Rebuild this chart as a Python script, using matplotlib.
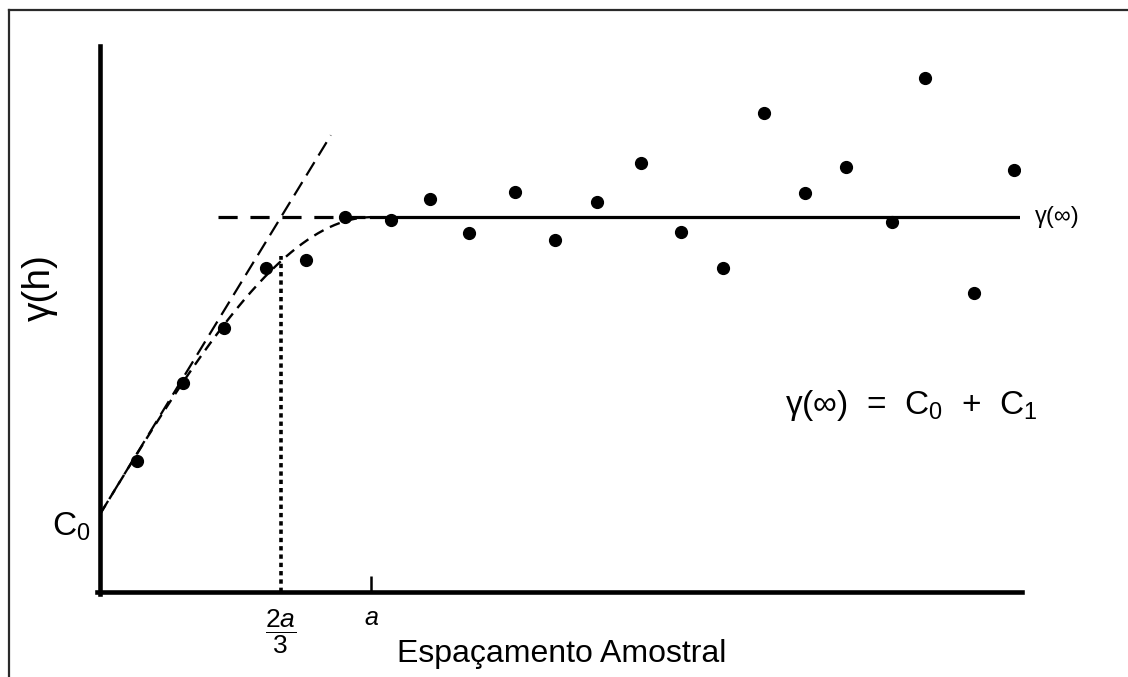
import matplotlib
matplotlib.use('Agg')

import numpy as np
import matplotlib.pyplot as plt
from matplotlib.lines import Line2D

# dados do semivariograma experimental (lag, gamma)
lags = [0.89, 1.99, 2.97, 3.97, 4.93, 5.86, 6.96, 7.89, 8.82, 9.92, 10.88,
        11.88, 12.94, 13.89, 14.90, 15.88, 16.86, 17.84, 18.94, 19.73, 20.90, 21.86]
gamas = [2.39, 3.81, 4.82, 5.91, 6.06, 6.84, 6.79, 7.17, 6.55, 7.30, 6.42,
         7.12, 7.83, 6.57, 5.91, 8.74, 7.28, 7.76, 6.75, 9.38, 5.46, 7.70]

c0 = 1.42        # efeito pepita
sill = 6.84      # patamar C0 + C1
alcance = 6.49   # a

plt.rcParams['font.family'] = ['Liberation Sans', 'DejaVu Sans']
plt.rcParams['mathtext.fontset'] = 'custom'
plt.rcParams['mathtext.rm'] = 'Liberation Sans'
plt.rcParams['mathtext.it'] = 'Liberation Sans:italic'

fig = plt.figure(figsize=(11.28, 6.77), dpi=100)
ax = fig.add_axes([100 / 1128, 85 / 677, 920 / 1128, 548 / 677])

# moldura da figura (so esquerda e topo aparecem)
fig.add_artist(Line2D([9 / 1128, 9 / 1128], [0, 1 - 10 / 677], color='#2a2a2a', lw=1.6,
                      transform=fig.transFigure))
fig.add_artist(Line2D([9 / 1128, 1], [1 - 10 / 677, 1 - 10 / 677], color='#2a2a2a', lw=1.6,
                      transform=fig.transFigure))

c1 = sill - c0
# modelo esferico
h = np.linspace(0, alcance, 200)
g = c0 + c1 * (1.5 * h / alcance - 0.5 * (h / alcance) ** 3)
ax.plot(h, g, color='black', lw=1.7, dashes=(4.5, 3))

# tangente na origem
incl = 1.5 * c1 / alcance
ht = np.array([0, 5.52])
ax.plot(ht, c0 + incl * ht, color='black', lw=1.6, dashes=(7, 3.5))

# patamar
ax.plot([2.82, alcance], [sill, sill], color='black', lw=2.3, dashes=(6, 4))
ax.plot([alcance, 22], [sill, sill], color='black', lw=2.3)

# linha pontilhada em 2a/3
x23 = 2 * alcance / 3
y23 = c0 + c1 * (1.5 * 2 / 3 - 0.5 * (2 / 3) ** 3)
ax.plot([x23, x23], [0, y23 + 0.1], color='black', lw=2.6, dashes=(1.2, 1.1))

# marca em a
ax.plot([alcance, alcance], [0, 0.3], color='black', lw=1.8, solid_capstyle='butt')

ax.plot(lags, gamas, 'o', color='black', ms=8.5)

ax.set_xlim(0, 22)
ax.set_ylim(0, 10)
for s in ['top', 'right']:
    ax.spines[s].set_visible(False)
ax.spines['left'].set_linewidth(3.3)
ax.spines['bottom'].set_linewidth(3.3)
ax.spines['left'].set_bounds(-0.04, 9.96)
ax.spines['bottom'].set_bounds(-0.07, 22.05)
ax.set_xticks([])
ax.set_yticks([])

ax.text(-0.22, c0 + 0.06, 'C$_0$', fontsize=24, ha='right', va='top')
ax.text(alcance, -0.25, '$a$', fontsize=18, ha='center', va='top')
ax.text(x23, -0.28, r'$\dfrac{2a}{3}$', fontsize=19, ha='center', va='top')
ax.text(22.35, sill, 'γ(∞)', fontsize=17, ha='left', va='center')
ax.text(19.4, 3.4, 'γ(∞)  =  C$_0$  +  C$_1$', fontsize=24, ha='center', va='center')

ax.text(11.05, -0.85, 'Espaçamento Amostral', fontsize=23, ha='center', va='top')
ax.text(-1.43, 5.55, 'γ(h)', fontsize=28, ha='center', va='center', rotation=90)

plt.savefig('out.png', dpi=100)
